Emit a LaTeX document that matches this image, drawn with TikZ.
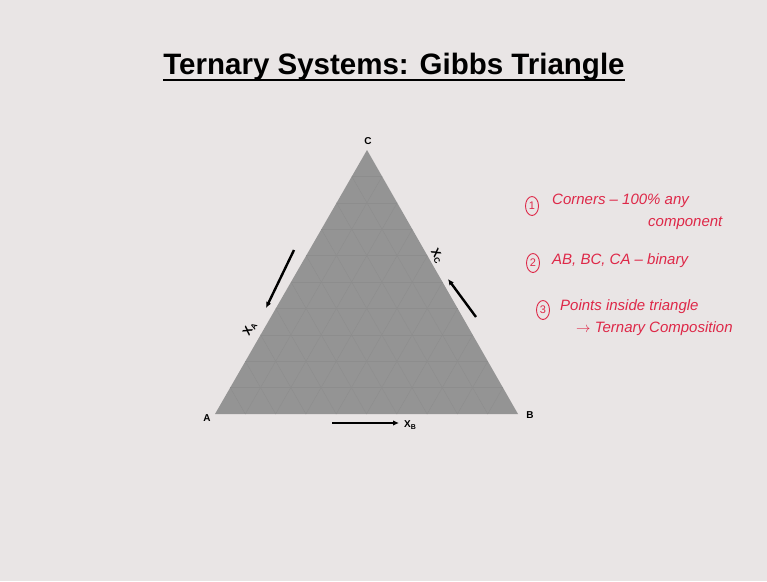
\documentclass[tikz,border=0pt]{standalone}
\usepackage{fontspec}
\setmainfont{Liberation Sans}
\usetikzlibrary{arrows.meta,calc,shapes.geometric}
\definecolor{slidebg}{RGB}{233,229,229}
\definecolor{trifill}{RGB}{148,148,148}
\definecolor{gridc}{RGB}{141,141,141}
\definecolor{ink}{RGB}{222,40,72}
\tikzset{
  vlabel/.style={font=\bfseries\fontsize{10}{12}\selectfont, inner sep=0pt},
  xlabel/.style={font=\bfseries\fontsize{12}{14}\selectfont, inner sep=0pt},
  xarrow/.style={line width=2.4pt, -{Latex[length=6pt,width=5.5pt]}},
  note/.style={font=\itshape\fontsize{15}{17}\selectfont, text=ink, anchor=west, inner sep=0pt},
  numc/.style={draw=ink, line width=0.9pt, ellipse, minimum width=13pt, minimum height=19pt, inner sep=0pt, font=\fontsize{11}{12}\selectfont, text=ink}
}
\begin{document}
\begin{tikzpicture}[x=1pt,y=-1pt]
\fill[slidebg] (0,0) rectangle (767,581);
\useasboundingbox (0,0) rectangle (767,581);
% title
\node[font=\bfseries\fontsize{29.5}{32}\selectfont, inner sep=0pt, anchor=base] (title) at (394,74) {Ternary Systems: Gibbs Triangle};
\draw[line width=2.6pt] (title.west |- 0,80) -- (title.east |- 0,80);
% triangle
\coordinate (A) at (215,414);
\coordinate (B) at (518,414);
\coordinate (C) at (367,150);
\fill[trifill] (A) -- (B) -- (C) -- cycle;
\foreach \i in {1,...,9}{
  \draw[gridc, line width=0.4pt] ($(A)!\i/10!(C)$) -- ($(B)!\i/10!(C)$);
  \draw[gridc, line width=0.4pt] ($(A)!\i/10!(B)$) -- ($(C)!\i/10!(B)$);
  \draw[gridc, line width=0.4pt] ($(B)!\i/10!(A)$) -- ($(C)!\i/10!(A)$);
}
\node[vlabel] (lA) at (207,418) {A};
\node[vlabel] (lB) at (530,415) {B};
\node[vlabel] (lC) at (368,141) {C};
% arrows
\coordinate (b1) at (332,423); \coordinate (b2) at (399,423);
\draw[xarrow] (b1) -- (b2);
\node[vlabel, anchor=west] (xb) at (404,425) {X\textsubscript{B}};
\coordinate (l1) at (294,250); \coordinate (l2) at (266,308);
\draw[xarrow] (l1) -- (l2);
\node[xlabel, rotate=60] (xa) at (250,329) {X\textsubscript{A}};
\coordinate (r1) at (476,317); \coordinate (r2) at (448,279);
\draw[xarrow] (r1) -- (r2);
\node[xlabel, rotate=-60] (xc) at (437,256) {X\textsubscript{C}};
% notes
\node[numc] (n1) at (532,206) {1};
\node[note] (t1) at (552,201) {Corners -- 100\% any};
\node[note] (t1b) at (648,223) {component};
\node[numc] (n2) at (533,263) {2};
\node[note] (t2) at (552,261) {AB, BC, CA -- binary};
\node[numc] (n3) at (543,310) {3};
\node[note] (t3) at (560,307) {Points inside triangle};
\node[note] (t4) at (576,329) {$\rightarrow$ Ternary Composition};
\end{tikzpicture}
\end{document}
